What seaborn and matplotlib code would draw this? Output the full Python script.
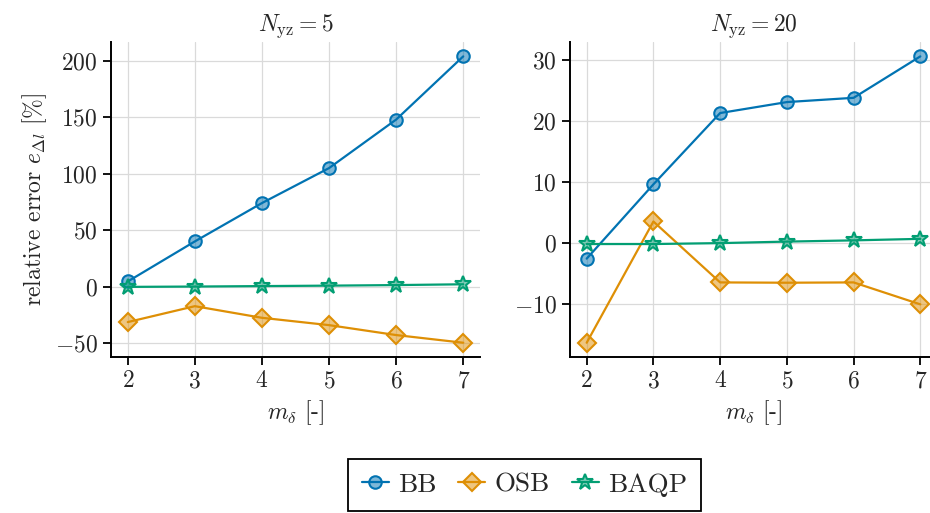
import numpy as np
import pandas as pd
import seaborn as sns
import matplotlib
matplotlib.use("Agg")
import matplotlib.pyplot as plt
from matplotlib.colors import to_rgba
from matplotlib.lines import Line2D

# ---- data ----
m_delta = [2, 3, 4, 5, 6, 7]
methods = ["BB", "OSB", "BAQP"]
titles = [r"$N_{\mathrm{yz}} = 5$", r"$N_{\mathrm{yz}} = 20$"]

n5_BB = [4.5, 40, 74, 105, 148, 204]
n5_OSB = [-31.5, -17.4, -27.7, -34.2, -43, -49.8]
n5_BAQP = [-0.3, 0.0, 0.4, 0.8, 1.3, 2.0]

n20_BB = [-2.6, 9.6, 21.3, 23.1, 23.8, 30.6]
n20_OSB = [-16.4, 3.5, -6.5, -6.55, -6.5, -10.1]
n20_BAQP = [-0.2, -0.2, -0.05, 0.2, 0.4, 0.65]

panels = [
    {"BB": n5_BB, "OSB": n5_OSB, "BAQP": n5_BAQP},
    {"BB": n20_BB, "OSB": n20_OSB, "BAQP": n20_BAQP},
]

# ---- style ----
sns.set_theme(style="ticks")
plt.rcParams["font.family"] = ["cmr10", "DejaVu Serif"]
plt.rcParams["mathtext.fontset"] = "cm"
plt.rcParams["axes.formatter.use_mathtext"] = True
plt.rcParams["axes.unicode_minus"] = True

FS = 17

palette = sns.color_palette("colorblind")
colors = {"BB": palette[0], "OSB": palette[1], "BAQP": palette[2]}
markers = {"BB": "o", "OSB": "D", "BAQP": "*"}
msizes = {"BB": 9, "OSB": 9, "BAQP": 12}

fig = plt.figure(figsize=(9.3, 5.13), dpi=100)
ax1 = fig.add_axes([111 / 930, 0.304, 369 / 930, 0.614])
ax2 = fig.add_axes([570 / 930, 0.304, 367 / 930, 0.614])
axes = [ax1, ax2]

for ax, panel, title in zip(axes, panels, titles):
    rows = []
    for meth in methods:
        for x, y in zip(m_delta, panel[meth]):
            rows.append({"m": x, "err": y, "method": meth})
    df = pd.DataFrame(rows)
    sns.lineplot(data=df, x="m", y="err", hue="method", style="method",
                 hue_order=methods, style_order=methods, palette=colors,
                 markers=markers, dashes=False, ax=ax, legend=False,
                 linewidth=1.6)
    for line, meth in zip(ax.lines, methods):
        c = colors[meth]
        line.set_markerfacecolor(to_rgba(c, 0.5))
        line.set_markeredgecolor(c)
        line.set_markeredgewidth(1.5)
        line.set_markersize(msizes[meth])
    ax.set_xticks(m_delta)
    ax.grid(True, color="#dadada", linewidth=0.9)
    ax.set_axisbelow(True)
    ax.set_title(title, fontsize=FS, pad=8)
    ax.set_xlabel(r"$m_{\delta}$ [-]", fontsize=FS)
    ax.set_ylabel("")
    ax.tick_params(labelsize=FS, length=6, width=1.3, direction="out",
                   color="black")
    for s in ["left", "bottom"]:
        ax.spines[s].set_linewidth(1.4)
        ax.spines[s].set_color("black")
    sns.despine(ax=ax)

ax1.set_yticks([-50, 0, 50, 100, 150, 200])
ax2.set_yticks([-10, 0, 10, 20, 30])
ax1.set_ylabel(r"relative error $e_{\Delta l}$ [%]", fontsize=FS)

handles = []
for meth in methods:
    c = colors[meth]
    handles.append(Line2D([], [], color=c, linewidth=1.6, marker=markers[meth],
                          markersize=msizes[meth], markerfacecolor=to_rgba(c, 0.5),
                          markeredgecolor=c, markeredgewidth=1.5))
leg = fig.legend(handles, methods, loc="center", bbox_to_anchor=(0.564, 0.0546),
                 ncol=3, fontsize=19.5, frameon=True, fancybox=False,
                 edgecolor="black", framealpha=1, handlelength=1.0,
                 columnspacing=0.8, handletextpad=0.35, borderpad=0.5,
                 borderaxespad=0)
leg.get_frame().set_linewidth(1.3)

fig.savefig("out.png", dpi=100)
